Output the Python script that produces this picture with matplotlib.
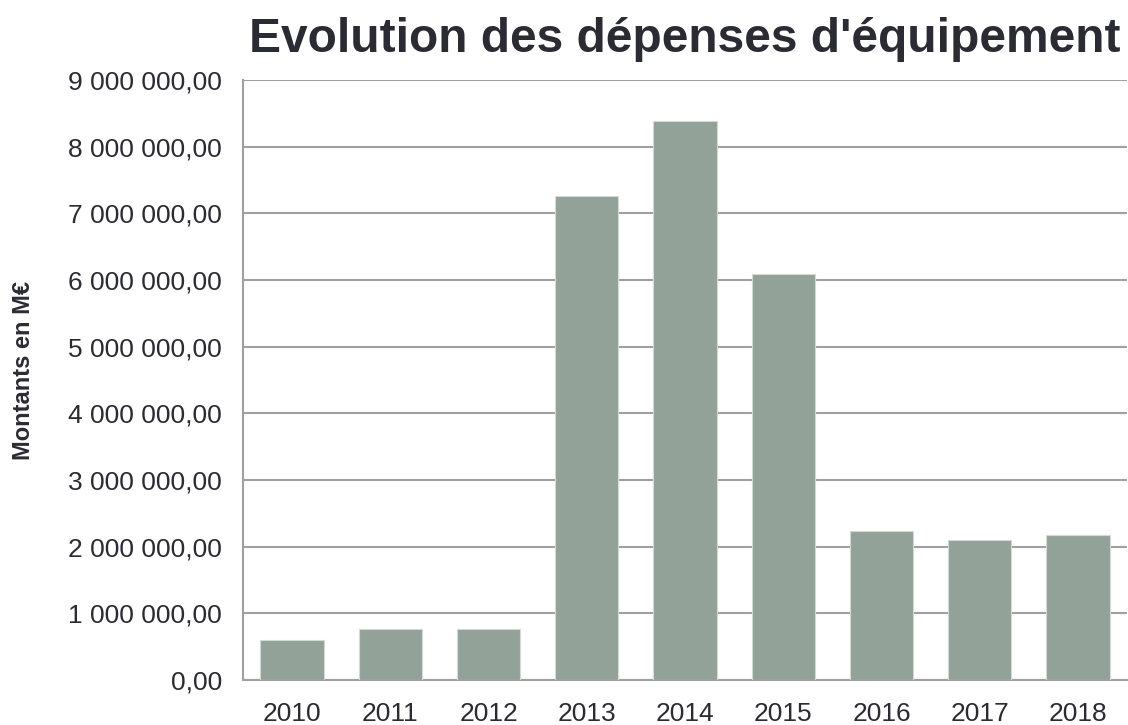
import matplotlib
matplotlib.use("Agg")
import matplotlib.pyplot as plt
from matplotlib.ticker import FuncFormatter, MultipleLocator

# data
years = ["2010", "2011", "2012", "2013", "2014", "2015", "2016", "2017", "2018"]
montants = [600000, 770000, 770000, 7265000, 8380000, 6085000, 2230000, 2095000, 2180000]

plt.rcParams['font.family'] = ['Liberation Sans', 'DejaVu Sans']
txt = '#2b2b33'
grid_col = '#a0a0a0'

fig = plt.figure(figsize=(11.28, 7.25), dpi=100)
ax = fig.add_axes([243/1128, 1 - 680/725, 884/1128, 600/725])

x = range(len(years))
ax.bar(x, montants, width=0.645, color='#93a298', edgecolor='#d3dad3', linewidth=0.8, zorder=3)

ax.set_xlim(-0.5, len(years) - 0.5)
ax.set_ylim(0, 9000000)
ax.yaxis.set_major_locator(MultipleLocator(1000000))

def fmt(v, pos):
    s = f"{v:,.2f}".replace(",", " ").replace(".", ",")
    return s
ax.yaxis.set_major_formatter(FuncFormatter(fmt))

ax.set_xticks(list(x))
ax.set_xticklabels(years)
ax.tick_params(axis='both', length=0, labelsize=19, colors=txt)
ax.tick_params(axis='x', pad=16)
ax.tick_params(axis='y', pad=15)

ax.grid(axis='y', color=grid_col, linewidth=1.5, zorder=0)
for s in ['top', 'right']:
    ax.spines[s].set_visible(False)
for s in ['left', 'bottom']:
    ax.spines[s].set_color(grid_col)
    ax.spines[s].set_linewidth(1.5)

fig.text(23/1128, 1 - 371/725, "Montants en M€", fontsize=17, fontweight='bold', color=txt,
         rotation=90, ha='center', va='center')
fig.text(685/1128, 1 - 39/725, "Evolution des dépenses d'équipement", fontsize=34.5,
         fontweight='bold', color=txt, ha='center', va='center')

fig.savefig("out.png", dpi=100)
